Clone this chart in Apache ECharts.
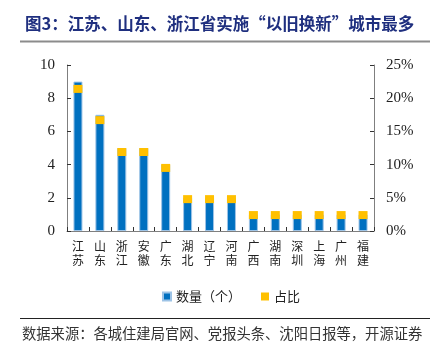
<!DOCTYPE html>
<html>
<head>
<meta charset="utf-8">
<script src="https://cdn.jsdelivr.net/npm/echarts@6/dist/echarts.min.js"></script>
<style>
  html, body { margin: 0; padding: 0; background: #fff; }
  #chart { width: 441px; height: 351px; }
</style>
</head>
<body>
<div id="chart"></div>
<script>
const categories = ['江苏', '山东', '浙江', '安徽', '广东', '湖北', '辽宁', '河南', '广西', '湖南', '深圳', '上海', '广州', '福建']
const countValues = [9, 7, 5, 5, 4, 2, 2, 2, 1, 1, 1, 1, 1, 1]
const shareValues = [21.4, 16.7, 11.9, 11.9, 9.5, 4.8, 4.8, 4.8, 2.4, 2.4, 2.4, 2.4, 2.4, 2.4]
const leftTicks = { min: 0, max: 10, interval: 2 }
const rightTicks = { min: 0, max: 25, interval: 5 }

const cjkFont = '"Noto Sans CJK SC", sans-serif'
const numFont = '"Liberation Serif", "DejaVu Serif", serif'
const axisGray = '#7f7f7f'

const chart = echarts.init(document.getElementById('chart'))

const option = {
  animation: false,
  backgroundColor: '#fff',
  title: {
    text: '图3：江苏、山东、浙江省实施“以旧换新”城市最多',
    left: 20,
    top: 10,
    textStyle: {
      fontFamily: cjkFont,
      fontSize: 16.5,
      fontWeight: 'bold',
      color: '#1f2f7f',
    },
  },
  graphic: [
    {
      type: 'line',
      shape: { x1: 20, y1: 41.5, x2: 430, y2: 41.5 },
      style: { stroke: '#8c8c8c', lineWidth: 2 },
    },
    {
      type: 'line',
      shape: { x1: 20, y1: 318.5, x2: 430, y2: 318.5 },
      style: { stroke: '#222', lineWidth: 1 },
    },
    {
      type: 'text',
      left: 22,
      top: 326,
      style: {
        text: '数据来源：各城住建局官网、党报头条、沈阳日报等，开源证券',
        font: '14.3px ' + cjkFont,
        fill: '#333',
      },
    },
  ],
  legend: {
    top: 285,
    left: 157,
    icon: 'rect',
    itemWidth: 8,
    itemHeight: 8,
    itemGap: 20,
    textStyle: { fontFamily: cjkFont, fontSize: 13, color: '#222' },
    data: ['数量（个）', '占比'],
  },
  grid: {
    left: 67,
    right: 67,
    top: 65,
    bottom: 120,
  },
  xAxis: {
    type: 'category',
    data: categories,
    boundaryGap: true,
    axisLine: { lineStyle: { color: axisGray, width: 1 } },
    axisTick: { show: true, inside: true, length: 4, lineStyle: { color: '#333' } },
    axisLabel: {
      interval: 0,
      margin: 8,
      fontFamily: cjkFont,
      fontSize: 12,
      lineHeight: 14,
      color: '#222',
      formatter: (v) => v.split('').join('\n'),
    },
  },
  yAxis: [
    {
      type: 'value',
      min: leftTicks.min,
      max: leftTicks.max,
      interval: leftTicks.interval,
      axisLine: { show: true, lineStyle: { color: axisGray } },
      axisTick: { show: true, inside: true, length: 4, lineStyle: { color: '#333' } },
      splitLine: { show: false },
      axisLabel: { fontFamily: numFont, fontSize: 15, color: '#222', margin: 12 },
    },
    {
      type: 'value',
      min: rightTicks.min,
      max: rightTicks.max,
      interval: rightTicks.interval,
      position: 'right',
      axisLine: { show: true, lineStyle: { color: axisGray } },
      axisTick: { show: true, inside: true, length: 4, lineStyle: { color: '#333' } },
      splitLine: { show: false },
      axisLabel: { fontFamily: numFont, fontSize: 15, color: '#222', margin: 12, formatter: '{value}%' },
    },
  ],
  series: [
    {
      name: '数量（个）',
      type: 'bar',
      yAxisIndex: 0,
      barWidth: 9,
      itemStyle: { color: '#0070c0', borderColor: '#9dc3e6', borderWidth: 1 },
      data: countValues,
    },
    {
      name: '占比',
      type: 'scatter',
      yAxisIndex: 1,
      symbol: 'rect',
      symbolSize: [9, 8],
      z: 5,
      itemStyle: { color: '#ffc000', opacity: 1 },
      data: shareValues,
    },
  ],
}

chart.setOption(option)
</script>
</body>
</html>
